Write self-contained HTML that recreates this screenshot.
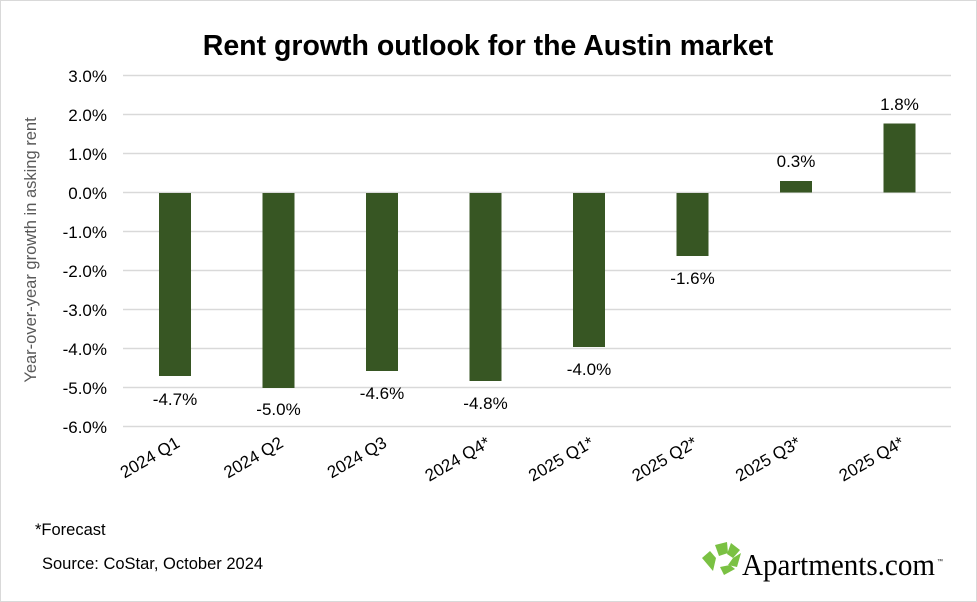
<!DOCTYPE html>
<html><head><meta charset="utf-8"><style>
body{margin:0;background:#fff;}
svg{display:block;font-family:"Liberation Sans",Arial,sans-serif;}
</style></head><body>
<svg width="977" height="602" viewBox="0 0 977 602" xmlns="http://www.w3.org/2000/svg">
<rect x="0.5" y="0.5" width="976" height="601" fill="#fff" stroke="#d9d9d9"/>
<text x="488" y="55" text-anchor="middle" font-size="28.5" font-weight="bold" fill="#000">Rent growth outlook for the Austin market</text>
<g stroke="#d9d9d9" stroke-width="1.5">
<line x1="123" x2="951" y1="75.5" y2="75.5"/><line x1="123" x2="951" y1="114.5" y2="114.5"/>
<line x1="123" x2="951" y1="153.5" y2="153.5"/><line x1="123" x2="951" y1="192.5" y2="192.5"/>
<line x1="123" x2="951" y1="231.5" y2="231.5"/><line x1="123" x2="951" y1="270.5" y2="270.5"/>
<line x1="123" x2="951" y1="309.5" y2="309.5"/><line x1="123" x2="951" y1="348.5" y2="348.5"/>
<line x1="123" x2="951" y1="387.5" y2="387.5"/><line x1="123" x2="951" y1="426.5" y2="426.5"/>
</g>
<g font-size="17" fill="#000" text-anchor="end">
<text x="107" y="82">3.0%</text><text x="107" y="121">2.0%</text><text x="107" y="160">1.0%</text>
<text x="107" y="199">0.0%</text><text x="107" y="238">-1.0%</text><text x="107" y="277">-2.0%</text>
<text x="107" y="316">-3.0%</text><text x="107" y="355">-4.0%</text><text x="107" y="394">-5.0%</text>
<text x="107" y="433">-6.0%</text>
</g>
<text transform="translate(36,250) rotate(-90)" text-anchor="middle" font-size="16.5" fill="#595959">Year-over-year growth in asking rent</text>
<g fill="#375623">
<rect x="159" y="193" width="32" height="183"/>
<rect x="262.5" y="193" width="32" height="195"/>
<rect x="366" y="193" width="32" height="178"/>
<rect x="469.5" y="193" width="32" height="188"/>
<rect x="573" y="193" width="32" height="154"/>
<rect x="676.5" y="193" width="32" height="63"/>
<rect x="780" y="181" width="32" height="11.5"/>
<rect x="883.5" y="123.5" width="32" height="69"/>
</g>
<g font-size="17" fill="#000" text-anchor="middle">
<text x="175" y="405">-4.7%</text><text x="278.5" y="415">-5.0%</text><text x="382" y="399">-4.6%</text>
<text x="485.5" y="409">-4.8%</text><text x="589" y="375">-4.0%</text><text x="692.5" y="284">-1.6%</text>
<text x="796" y="167">0.3%</text><text x="899.5" y="110">1.8%</text>
</g>
<g font-size="17" fill="#000" text-anchor="end">
<text transform="translate(181,446) rotate(-30)">2024 Q1</text>
<text transform="translate(284.5,446) rotate(-30)">2024 Q2</text>
<text transform="translate(388,446) rotate(-30)">2024 Q3</text>
<text transform="translate(491.5,446) rotate(-30)">2024 Q4*</text>
<text transform="translate(595,446) rotate(-30)">2025 Q1*</text>
<text transform="translate(698.5,446) rotate(-30)">2025 Q2*</text>
<text transform="translate(802,446) rotate(-30)">2025 Q3*</text>
<text transform="translate(905.5,446) rotate(-30)">2025 Q4*</text>
</g>
<text x="35" y="535" font-size="16.5" fill="#000">*Forecast</text>
<text x="42" y="569" font-size="16.5" fill="#000">Source: CoStar, October 2024</text>
<g fill="#7ac143">
<polygon points="715,545 727,542 728,553 719,556"/>
<polygon points="731,543 740,550 733,558 727,554"/>
<polygon points="741,553 737,567 728,565 733,558"/>
<polygon points="724,575 735,569 730,565 720,567"/>
<polygon points="702,558 710,551 716,558 713,571"/>
</g>
<text x="742" y="575" font-family="Liberation Serif,serif" font-size="31" fill="#000" textLength="193" lengthAdjust="spacingAndGlyphs">Apartments.com</text>
<text x="937" y="563" font-size="6" fill="#000">™</text>
</svg>
</body></html>
